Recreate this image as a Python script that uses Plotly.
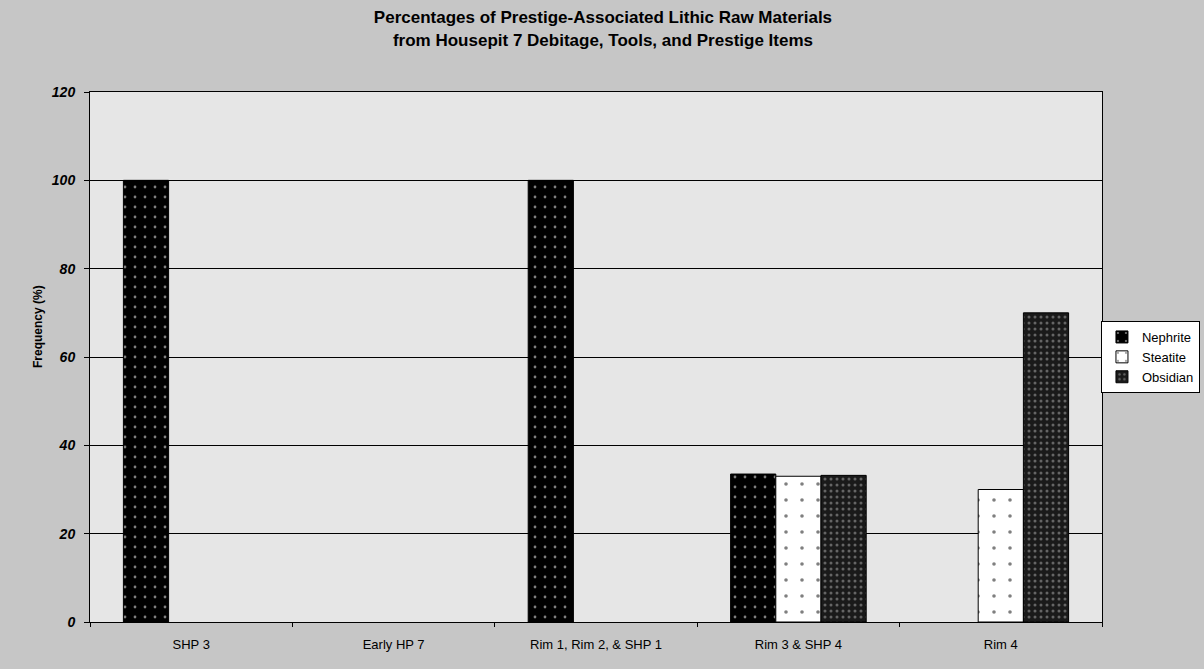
import plotly.graph_objects as go

categories = ["SHP 3", "Early HP 7", "Rim 1, Rim 2, & SHP 1", "Rim 3 & SHP 4", "Rim 4"]
nephrite = [100, None, 100, 33.5, None]
steatite = [None, None, None, 33.0, 30.0]
obsidian = [None, None, None, 33.2, 70.0]
y_ticks = [0, 20, 40, 60, 80, 100, 120]

fig = go.Figure()
fig.add_trace(go.Bar(
    name="Nephrite", x=categories, y=nephrite,
    marker=dict(color="black", line=dict(color="black", width=1),
                pattern=dict(shape=".", bgcolor="black", fgcolor="white", size=10, solidity=0.06)),
))
fig.add_trace(go.Bar(
    name="Steatite", x=categories, y=steatite,
    marker=dict(color="white", line=dict(color="black", width=1),
                pattern=dict(shape=".", bgcolor="white", fgcolor="black", size=16, solidity=0.04)),
))
fig.add_trace(go.Bar(
    name="Obsidian", x=categories, y=obsidian,
    marker=dict(color="#222222", line=dict(color="black", width=1),
                pattern=dict(shape=".", bgcolor="#1a1a1a", fgcolor="#b0b0b0", size=6, solidity=0.2)),
))

fig.update_layout(
    width=1204, height=669,
    barmode="group", bargap=0.33, bargroupgap=0,
    paper_bgcolor="#c6c6c6", plot_bgcolor="#e6e6e6",
    margin=dict(l=90, r=102, t=92, b=47, autoexpand=False),
    font=dict(family="Arial, Liberation Sans, sans-serif", color="black"),
    title=dict(
        text="<b>Percentages of Prestige-Associated Lithic Raw Materials<br>from Housepit 7 Debitage, Tools, and Prestige Items</b>",
        xref="container", x=0.5008, xanchor="center",
        yref="container", y=0.965, yanchor="top",
        font=dict(size=17, color="black"),
    ),
    legend=dict(
        x=1.0968, xanchor="right", y=0.5, yanchor="middle",
        bgcolor="white", bordercolor="black", borderwidth=1,
        font=dict(size=13), tracegroupgap=0, itemwidth=30,
    ),
    showlegend=True,
    annotations=[dict(
        text="<b>Frequency (%)</b>", textangle=-90,
        xref="paper", yref="paper", x=-0.0514, y=0.5585,
        xanchor="center", yanchor="middle", showarrow=False,
        font=dict(size=12, color="black"),
    )],
)
fig.update_yaxes(
    range=[0, 120], tickvals=y_ticks, ticktext=[f"<b><i>{v}</i></b>" for v in y_ticks],
    showgrid=True, gridcolor="black", gridwidth=1,
    showline=True, linecolor="black", linewidth=1, mirror=True,
    ticks="outside", ticklen=5, tickcolor="black", tickfont=dict(size=14),
    ticklabelstandoff=6,
    zeroline=False,
)
fig.update_xaxes(
    showline=True, linecolor="black", linewidth=1, mirror=True,
    ticks="outside", ticklen=4, tickcolor="black", tickson="boundaries",
    tickfont=dict(size=13), ticklabelstandoff=10,
)
fig.write_html("out.html", config={"displayModeBar": False},
               post_script="document.body.style.margin='0px';")
